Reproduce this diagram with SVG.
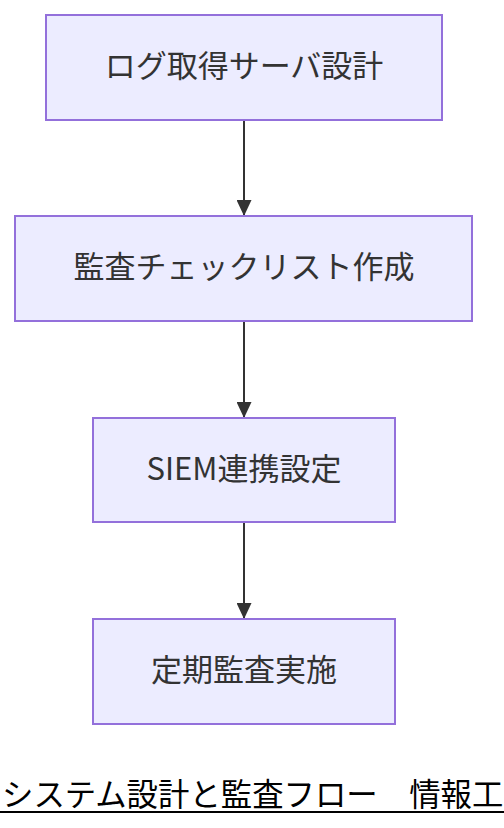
<svg xmlns="http://www.w3.org/2000/svg" width="504" height="828" viewBox="0 0 504 828">
<style>
.node rect{fill:#ECECFF;stroke:#9370DB;stroke-width:2}
.node text{fill:#333;font-family:"Noto Sans CJK JP","Noto Sans",sans-serif;font-size:31px;text-anchor:middle}
.edge{stroke:#333;stroke-width:2;fill:none}
.title{fill:#000;font-family:"Noto Sans CJK JP",sans-serif;font-size:31.4px}
</style>
<defs>
<marker id="arrow" viewBox="0 0 16 15" refX="16" refY="7.5" markerWidth="16" markerHeight="15" markerUnits="userSpaceOnUse" orient="auto">
<path d="M0,0 L16,7.5 L0,15 Z" fill="#333"/>
</marker>
</defs>
<rect width="504" height="828" fill="#fff"/>
<g id="connectors">
<line class="edge" x1="244" y1="121" x2="244" y2="216" marker-end="url(#arrow)"/>
<line class="edge" x1="244" y1="322" x2="244" y2="418" marker-end="url(#arrow)"/>
<line class="edge" x1="244" y1="523" x2="244" y2="619" marker-end="url(#arrow)"/>
</g>
<g id="n1" class="node"><rect x="46" y="15" width="396" height="105"/><text x="244" y="77">ログ取得サーバ設計</text></g>
<g id="n2" class="node"><rect x="15" y="216" width="457" height="105"/><text x="244" y="278">監査チェックリスト作成</text></g>
<g id="n3" class="node"><rect x="93" y="418" width="302" height="104"/><text x="244" y="480">SIEM連携設定</text></g>
<g id="n4" class="node"><rect x="93" y="619" width="302" height="105"/><text x="244" y="681">定期監査実施</text></g>
<g id="title">
<text class="title" x="2" y="806">システム設計と監査フロー　情報工</text>
<line x1="0" y1="812" x2="504" y2="812" stroke="#000" stroke-width="2"/>
</g>
</svg>
